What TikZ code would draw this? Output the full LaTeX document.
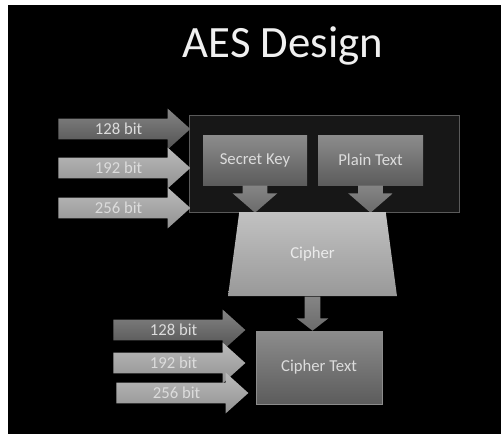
\documentclass[tikz,border=0pt]{standalone}
\usepackage{fontspec}
\setmainfont{Carlito}
\usetikzlibrary{shapes.arrows,shapes.geometric}
\definecolor{frameline}{HTML}{5A5A5A}
\definecolor{framefill}{HTML}{171717}
\definecolor{labeltext}{HTML}{DCDCDC}
\begin{document}
\begin{tikzpicture}[x=0.02cm,y=-0.02cm,
    bitarrow/.style={single arrow, anchor=tail, text=labeltext, font=\fontsize{9.5}{10}\selectfont,
        text height=6pt, text depth=0pt, inner xsep=0pt, inner ysep=2.7pt,
        minimum height=132*0.02cm, minimum width=40*0.02cm, single arrow head extend=10*0.02cm,
        single arrow tip angle=84},
    darkbit/.style={bitarrow, top color=black!48, bottom color=black!68},
    lightbit/.style={bitarrow, top color=black!27, bottom color=black!43},
    graybox/.style={rectangle, inner sep=0pt, text=labeltext, font=\fontsize{9.5}{11}\selectfont,
        top color=black!45, bottom color=black!64},
    downarrow/.style={single arrow, shape border rotate=270, anchor=tail, inner ysep=0pt,
        top color=black!48, bottom color=black!58}]
\fill[white] (0,0) rectangle (501,434);
\fill[black] (8,5) rectangle (501,434);
\node[text=white!94!black, font=\fontsize{25.5}{30}\selectfont, anchor=base] (title) at (283,57) {AES Design};
\node[draw=frameline, fill=framefill, minimum width=270*0.02cm, minimum height=97*0.02cm] (frame) at (324,163.5) {};
\node[darkbit] (k128) at (58,129) {128 bit};
\node[lightbit] (k192) at (58,168) {192 bit};
\node[lightbit] (k256) at (58,208) {256 bit};
\node[graybox, minimum width=104*0.02cm, minimum height=50*0.02cm] (skey) at (255,160) {Secret Key};
\node[graybox, minimum width=105*0.02cm, minimum height=50*0.02cm] (ptext) at (370.5,160) {Plain Text};
\node[downarrow, inner xsep=12*0.02cm, minimum height=27*0.02cm, minimum width=44*0.02cm,
    single arrow head extend=10*0.02cm, single arrow tip angle=98] (kdown) at (skey.south) {};
\node[downarrow, inner xsep=12*0.02cm, minimum height=27*0.02cm, minimum width=44*0.02cm,
    single arrow head extend=10*0.02cm, single arrow tip angle=98] (pdown) at (ptext.south) {};
\node[trapezium, trapezium angle=76.6, trapezium stretches=true, inner sep=0pt,
    minimum width=169*0.02cm, minimum height=84*0.02cm, text=white!92!black,
    font=\fontsize{9.5}{11}\selectfont, top color=black!24, bottom color=black!40] (cipher) at (312.5,254) {Cipher};
\node[downarrow, inner xsep=7.5*0.02cm, minimum height=34*0.02cm, minimum width=31*0.02cm,
    single arrow head extend=8*0.02cm, single arrow tip angle=104] (cdown) at (cipher.south) {};
\node[graybox, draw=black!45, minimum width=126*0.02cm, minimum height=73*0.02cm] (ctext) at (319,367.5) {Cipher Text};
\node[darkbit] (o128) at (113,330) {128 bit};
\node[lightbit] (o192) at (113,363) {192 bit};
\node[lightbit] (o256) at (116,393) {256 bit};
\end{tikzpicture}
\end{document}
